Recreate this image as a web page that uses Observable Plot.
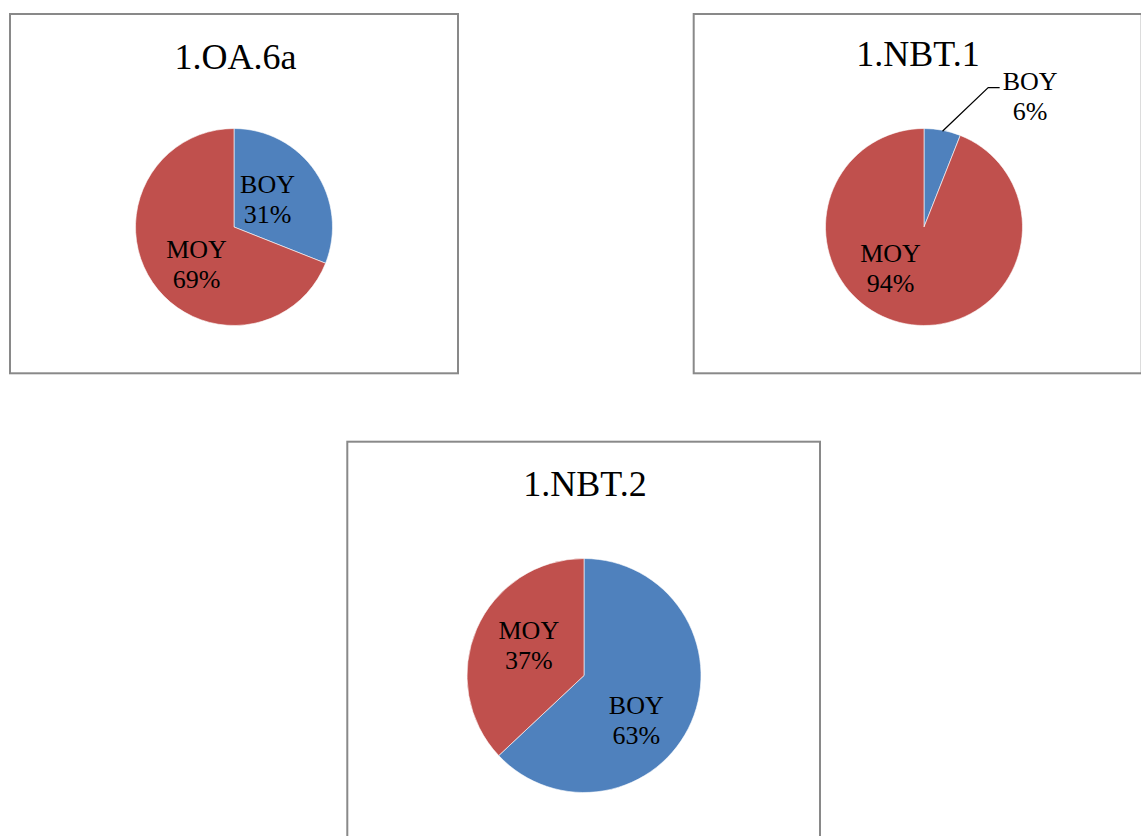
<!DOCTYPE html>
<html>
<head>
<meta charset="utf-8">
<script src="https://cdn.jsdelivr.net/npm/d3@7"></script>
<script src="https://cdn.jsdelivr.net/npm/@observablehq/plot@0.6"></script>
<style>
  html, body { margin: 0; padding: 0; background: #fff; overflow: hidden; }
  #chart { width: 1141px; height: 836px; }
</style>
</head>
<body>
<div id="chart"></div>
<script>
// ---- data ----
const charts = ["1.OA.6a", "1.NBT.1", "1.NBT.2"];
const periods = ["BOY", "MOY"];
const boyShare = [31, 6, 63];
const moyShare = [69, 94, 37];

// ---- layout (page pixels) ----
const W = 1141, H = 836;
const layout = [
  {box: [10, 14, 458, 373.3], titleX: 235, titleBase: 69.3, cx: 234, cy: 227, r: 98.5,
   nudge: {BOY: [-7.7, -1.4], MOY: [2.7, 8.2]}, outside: {}},
  {box: [693.7, 14, 1141.7, 373.3], titleX: 917.5, titleBase: 66.7, cx: 924, cy: 227, r: 98.5,
   nudge: {MOY: [-24.8, -8.9]}, outside: {BOY: [87.2, -35.1]}},
  {box: [347.3, 441.7, 820, 870], titleX: 584.5, titleBase: 496.7, cx: 584, cy: 675.5, r: 117,
   nudge: {BOY: [-1.9, 19.8], MOY: [-2, -8.1]}, outside: {}}
];
const colors = {BOY: "#4F81BD", MOY: "#C0504D"};
const titleSize = 36, labelSize = 26, labelLH = 30 / 26;

// ---- derived tables ----
const panels = charts.map((title, i) => {
  const slices = periods.map(p => ({label: p, value: p === "BOY" ? boyShare[i] : moyShare[i]}));
  return {title, slices, ...layout[i]};
});

const labels = [];
const leaders = [];
for (const p of panels) {
  const arcs = d3.pie().sort(null).value(d => d.value)(p.slices);
  for (const a of arcs) {
    const mid = (a.startAngle + a.endAngle) / 2;
    const text = `${a.data.label}\n${a.data.value}%`;
    if (p.outside[a.data.label]) {
      const [dx, dy] = p.outside[a.data.label];
      const ex = p.cx + p.r * Math.sin(mid), ey = p.cy - p.r * Math.cos(mid);
      const lx = ex + dx, ly = ey + dy;
      labels.push({x: lx, y: ly, text});
      leaders.push({x: ex, y: ey, g: p.title}, {x: lx - 42, y: ly - 8, g: p.title}, {x: lx - 31, y: ly - 8, g: p.title});
    } else {
      const [nx, ny] = p.nudge[a.data.label] || [0, 0];
      labels.push({
        x: p.cx + 0.5 * p.r * Math.sin(mid) + nx,
        y: p.cy - 0.5 * p.r * Math.cos(mid) + ny,
        text
      });
    }
  }
}

function pies(index, scales) {
  const g = d3.create("svg:g");
  const sx = scales.x || (v => v), sy = scales.y || (v => v);
  for (const p of panels) {
    const cx = sx(p.cx), cy = sy(p.cy), r = sx(p.cx + p.r) - cx;
    const arcs = d3.pie().sort(null).value(d => d.value)(p.slices);
    g.append("g").attr("transform", `translate(${cx},${cy})`)
      .selectAll("path").data(arcs).join("path")
      .attr("d", d3.arc().innerRadius(0).outerRadius(r))
      .attr("fill", d => colors[d.data.label])
      .attr("stroke", "#ffffff").attr("stroke-width", 0.6);
  }
  return g.node();
}

const plot = Plot.plot({
  width: W, height: H, margin: 0,
  style: {fontFamily: "'Liberation Serif', 'Times New Roman', serif", background: "#fff", color: "#000"},
  x: {domain: [0, W], range: [0, W], axis: null},
  y: {domain: [0, H], range: [0, H], axis: null},
  marks: [
    Plot.rect(panels, {x1: d => d.box[0], y1: d => d.box[1], x2: d => d.box[2], y2: d => d.box[3],
      fill: "#fff", stroke: "#898989", strokeWidth: 2}),
    pies,
    Plot.text(panels, {x: "titleX", y: d => d.titleBase - 0.35 * titleSize, text: "title",
      fontSize: titleSize, fill: "#000", textAnchor: "middle", lineAnchor: "middle"}),
    Plot.text(labels, {x: "x", y: "y", text: "text", fontSize: labelSize, lineHeight: labelLH,
      fill: "#000", textAnchor: "middle", lineAnchor: "middle"}),
    Plot.line(leaders, {x: "x", y: "y", z: "g", stroke: "#000", strokeWidth: 1.3})
  ]
});
document.getElementById("chart").appendChild(plot);
</script>
</body>
</html>
